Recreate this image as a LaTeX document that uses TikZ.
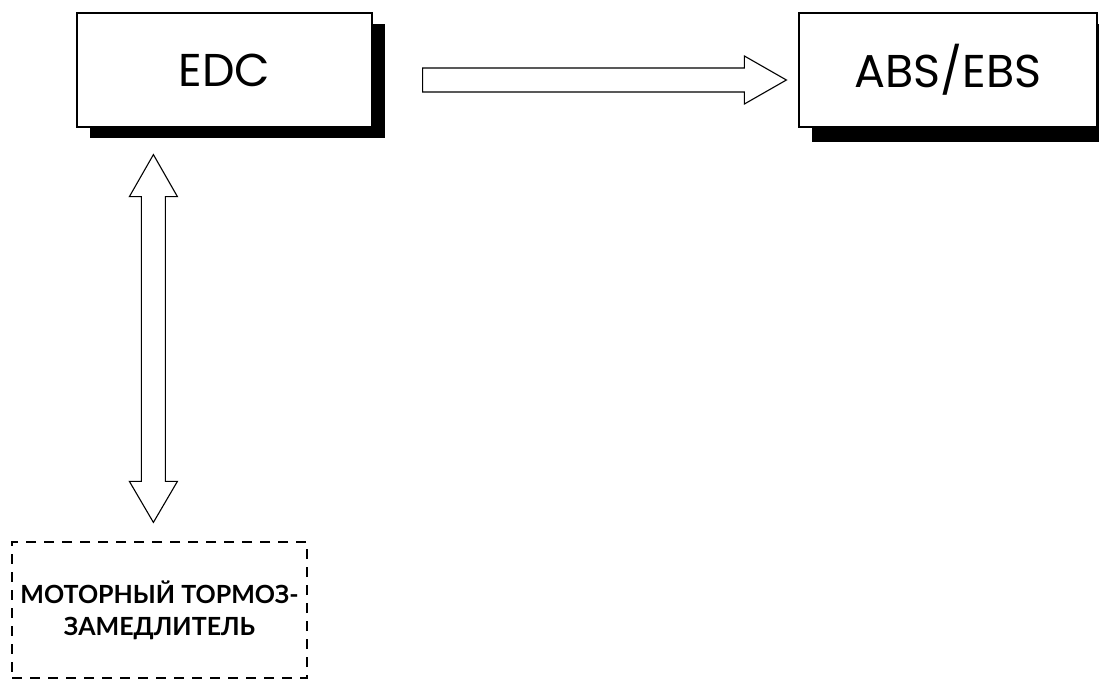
\documentclass[tikz,border=0pt]{standalone}
\usepackage{fontspec}
\setmainfont{Poppins}
\newfontfamily\cyrfont{Lato}
\usetikzlibrary{calc}
\tikzset{
  shadowbox/.style={draw=black, fill=white, line width=1.2pt, minimum width=#1, minimum height=114pt, inner sep=0pt, font=\fontsize{46}{50}\selectfont},
  dashbox/.style={draw=black, line width=1.2pt, dash pattern=on 10pt off 8pt, minimum width=295pt, minimum height=136pt, inner sep=0pt, align=center, font=\cyrfont\bfseries\fontsize{25}{32}\selectfont},
  hollowarrow/.style={draw=black, line width=1.1pt, line join=miter}
}
\begin{document}
\begin{tikzpicture}[x=1pt,y=-1pt]
\useasboundingbox (0,0) rectangle (1099,679);
% shadows
\fill[black] (90,24) rectangle (385,138);
\fill[black] (812,24) rectangle (1111,142);
% boxes
\node[shadowbox=295pt] (edc) at (224.5,70) {EDC};
\node[shadowbox=298pt] (abs) at (948,70) {ABS/EBS};
\node[dashbox] (ret) at (159.5,610) {МОТОРНЫЙ ТОРМОЗ-\\ЗАМЕДЛИТЕЛЬ};
% horizontal hollow arrow
\coordinate (a1) at ($(edc.east)+(50,10)$);
\coordinate (a2) at ($(abs.west)+(-12,10)$);
\draw[hollowarrow] ($(a1)+(0,-12)$) -- ($(a2)+(-42,-12)$) -- ($(a2)+(-42,-24)$) -- (a2)
  -- ($(a2)+(-42,24)$) -- ($(a2)+(-42,12)$) -- ($(a1)+(0,12)$) -- cycle;
% vertical hollow double arrow
\coordinate (v1) at ($(edc.south west)+(77,27)$);
\coordinate (v2) at ($(ret.north west)+(142,-19)$);
\draw[hollowarrow] (v1) -- ($(v1)+(24,42)$) -- ($(v1)+(12,42)$) -- ($(v2)+(12,-41)$)
  -- ($(v2)+(24,-41)$) -- (v2) -- ($(v2)+(-24,-41)$) -- ($(v2)+(-12,-41)$)
  -- ($(v1)+(-12,42)$) -- ($(v1)+(-24,42)$) -- cycle;
\end{tikzpicture}
\end{document}
